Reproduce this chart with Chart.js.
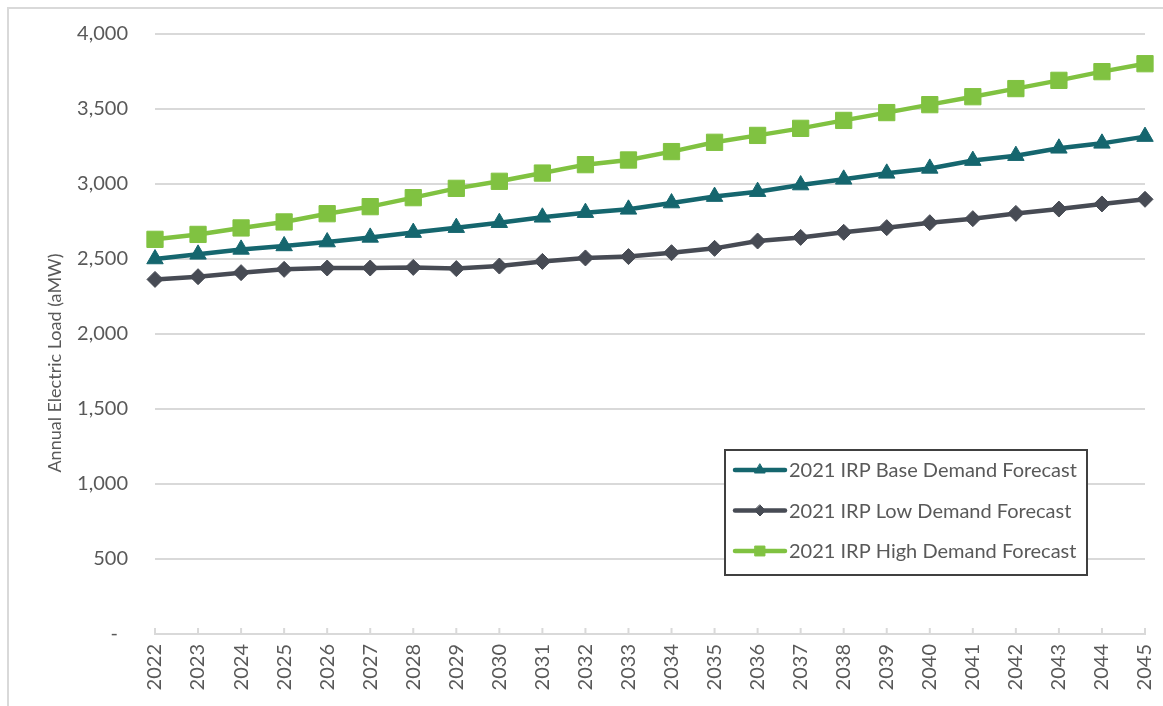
<!DOCTYPE html>
<html>
<head>
<meta charset="utf-8">
<script src="https://cdn.jsdelivr.net/npm/chart.js@4/dist/chart.umd.min.js"></script>
<style>
  html, body { margin: 0; padding: 0; background: #ffffff; }
  #wrap { position: relative; width: 1163px; height: 706px; overflow: hidden; background: #ffffff; }
  #frame { position: absolute; left: 7px; top: 7px; width: 1300px; height: 900px;
           border-left: 2px solid #d9d9d9; border-top: 2px solid #d9d9d9; }
  canvas { position: absolute; left: 0; top: 0; }
</style>
</head>
<body>
<div id="wrap">
  <div id="frame"></div>
  <canvas id="c" width="1163" height="706"></canvas>
</div>
<script>
// Forecast years
const years = ['2022','2023','2024','2025','2026','2027','2028','2029','2030','2031','2032','2033',
               '2034','2035','2036','2037','2038','2039','2040','2041','2042','2043','2044','2045'];

// Annual electric load, aMW
const baseDemand = [2500, 2531, 2564, 2587, 2613, 2644, 2676, 2709, 2742, 2778, 2809, 2831,
                    2873, 2916, 2949, 2993, 3031, 3071, 3104, 3156, 3189, 3238, 3271, 3316];
const lowDemand  = [2364, 2382, 2409, 2431, 2440, 2440, 2444, 2436, 2453, 2484, 2507, 2516,
                    2542, 2571, 2620, 2644, 2678, 2709, 2742, 2769, 2804, 2833, 2867, 2898];
const highDemand = [2631, 2664, 2707, 2747, 2802, 2849, 2909, 2971, 3018, 3073, 3129, 3160,
                    3216, 3278, 3324, 3371, 3424, 3476, 3529, 3582, 3636, 3691, 3749, 3802];

const seriesNames = ['2021 IRP Base Demand Forecast', '2021 IRP Low Demand Forecast', '2021 IRP High Demand Forecast'];
const yTitle = 'Annual Electric Load (aMW)';

const FONT = 'Lato, "Open Sans", "DejaVu Sans", sans-serif';
const TEXT = '#595959';

// Marker shape drawn in the legend box
function drawMarker(ctx, style, radius, color, x, y) {
  ctx.save();
  ctx.fillStyle = color;
  ctx.strokeStyle = color;
  ctx.lineWidth = 1;
  ctx.beginPath();
  if (style === 'triangle') {
    ctx.moveTo(x, y - radius);
    ctx.lineTo(x + radius * 0.866, y + radius * 0.5);
    ctx.lineTo(x - radius * 0.866, y + radius * 0.5);
  } else if (style === 'rectRot') {
    ctx.moveTo(x, y - radius);
    ctx.lineTo(x + radius, y);
    ctx.lineTo(x, y + radius);
    ctx.lineTo(x - radius, y);
  } else {
    const s = radius * Math.SQRT1_2;
    ctx.rect(x - s, y - s, 2 * s, 2 * s);
  }
  ctx.closePath();
  ctx.fill();
  ctx.stroke();
  ctx.restore();
}

// Boxed legend inside the lower right of the plot, plus upward x tick marks and the y title
const decorations = {
  id: 'decorations',
  afterDraw(chart) {
    const ctx = chart.ctx;
    const area = chart.chartArea;
    const xs = chart.scales.x;

    // short tick marks rising from the category axis
    ctx.save();
    ctx.strokeStyle = '#d9d9d9';
    ctx.lineWidth = 2;
    ctx.beginPath();
    xs.ticks.forEach((t, i) => {
      const px = xs.getPixelForTick(i);
      ctx.moveTo(px, area.bottom);
      ctx.lineTo(px, area.bottom - 6);
    });
    ctx.stroke();
    ctx.restore();

    // vertical axis title
    ctx.save();
    ctx.fillStyle = TEXT;
    ctx.font = '18px ' + FONT;
    ctx.textAlign = 'center';
    ctx.textBaseline = 'middle';
    ctx.translate(55, (area.top + chart.height) / 2 - 7);
    ctx.rotate(-Math.PI / 2);
    ctx.fillText(yTitle, 0, 0);
    ctx.restore();

    // legend box
    const boxW = 362, boxH = 125;
    const right = area.right - 58, bottom = area.bottom - 59;
    const left = right - boxW, top = bottom - boxH;
    ctx.save();
    ctx.fillStyle = '#ffffff';
    ctx.fillRect(left, top, boxW, boxH);
    ctx.strokeStyle = '#404040';
    ctx.lineWidth = 2;
    ctx.strokeRect(left, top, boxW, boxH);
    ctx.font = '20px ' + FONT;
    ctx.textBaseline = 'middle';
    ctx.textAlign = 'left';
    const radii = [6, 5.5, 7];
    chart.data.datasets.forEach((ds, i) => {
      const cy = top + 20 + i * 40.5;
      const x0 = left + 10, x1 = left + 60;
      ctx.strokeStyle = ds.borderColor;
      ctx.lineWidth = 4.5;
      ctx.lineCap = 'round';
      ctx.beginPath();
      ctx.moveTo(x0, cy);
      ctx.lineTo(x1, cy);
      ctx.stroke();
      drawMarker(ctx, ds.pointStyle, radii[i], ds.borderColor, (x0 + x1) / 2, cy);
      ctx.fillStyle = TEXT;
      ctx.fillText(ds.label, x1 + 4, cy + 1);
    });
    ctx.restore();
  }
};

const colors = { base: '#15666e', low: '#474b54', high: '#80c241' };

new Chart(document.getElementById('c'), {
  type: 'line',
  data: {
    labels: years,
    datasets: [
      { label: seriesNames[0], data: baseDemand, borderColor: colors.base, backgroundColor: colors.base,
        borderWidth: 4.5, pointStyle: 'triangle', pointRadius: 9.5, pointHoverRadius: 9.5, pointBorderWidth: 1 },
      { label: seriesNames[1], data: lowDemand, borderColor: colors.low, backgroundColor: colors.low,
        borderWidth: 4.5, pointStyle: 'rectRot', pointRadius: 8, pointHoverRadius: 8, pointBorderWidth: 1 },
      { label: seriesNames[2], data: highDemand, borderColor: colors.high, backgroundColor: colors.high,
        borderWidth: 4.5, pointStyle: 'rect', pointRadius: 11.5, pointHoverRadius: 11.5, pointBorderWidth: 1 }
    ]
  },
  options: {
    responsive: false,
    animation: false,
    events: [],
    layout: { padding: { top: 34, right: 18, bottom: 0, left: 0 } },
    elements: { line: { tension: 0 } },
    plugins: { legend: { display: false }, tooltip: { enabled: false }, title: { display: false } },
    scales: {
      x: {
        offset: false,
        grid: { display: false, drawTicks: false },
        border: { display: true, color: '#d9d9d9', width: 2 },
        ticks: { color: TEXT, font: { family: FONT, size: 20 }, minRotation: 90, maxRotation: 90,
                 padding: 10, autoSkip: false },
        afterFit(scale) {
          scale.height = 72;
          scale.paddingLeft = 0;
          scale.paddingRight = 0;
        }
      },
      y: {
        min: 0, max: 4000,
        grid: { color: '#d9d9d9', lineWidth: 2, drawTicks: false },
        border: { display: false },
        ticks: {
          stepSize: 500, color: TEXT, font: { family: FONT, size: 20 }, padding: 27,
          callback: v => v === 0 ? '-\u2002' : v.toLocaleString('en-US')
        },
        afterFit(scale) {
          scale.width = 155;
          scale.paddingTop = 0;
          scale.paddingBottom = 0;
        }
      }
    }
  },
  plugins: [decorations]
});
</script>
</body>
</html>
